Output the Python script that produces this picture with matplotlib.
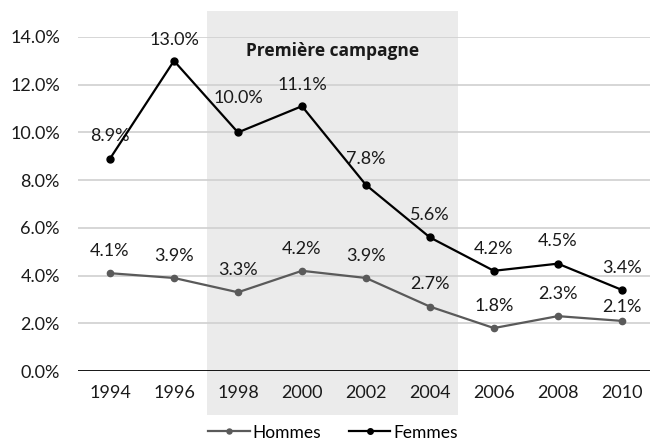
import matplotlib.pyplot as plt
from matplotlib.patches import Rectangle
import matplotlib.transforms as mtransforms

plt.rcParams['font.family'] = ['Lato', 'DejaVu Sans']

# Taux par année d'enquête (%)
annees = ['1994', '1996', '1998', '2000', '2002', '2004', '2006', '2008', '2010']
hommes = [4.1, 3.9, 3.3, 4.2, 3.9, 2.7, 1.8, 2.3, 2.1]
femmes = [8.9, 13.0, 10.0, 11.1, 7.8, 5.6, 4.2, 4.5, 3.4]
yticks = [0, 2, 4, 6, 8, 10, 12, 14]

fig = plt.figure(figsize=(6.5, 4.42), dpi=100)
ax = fig.add_axes([0.12, 0.1606, 0.88, 0.7557])

x = list(range(len(annees)))

# période de la première campagne (1998-2004)
trans = mtransforms.blended_transform_factory(ax.transData, ax.transAxes)
ax.add_patch(Rectangle((1.52, -0.132), 5.44 - 1.52, 1.21, transform=trans,
                       facecolor='#ebebeb', edgecolor='none', clip_on=False, zorder=0))
ax.text((1.52 + 5.44) / 2, 0.957, 'Première campagne', transform=trans,
        ha='center', va='center', fontsize=12.5, fontweight='bold', color='#1a1a1a',
        family=['Open Sans', 'DejaVu Sans'])

for v in yticks[1:]:
    ax.axhline(v, color='#d0d0d0', linewidth=1.2, zorder=1)
ax.axhline(0, color='black', linewidth=2, zorder=2)

ax.plot(x, hommes, color='#5a5a5a', linewidth=1.6, marker='o', markersize=4.5, label='Hommes', zorder=3)
ax.plot(x, femmes, color='black', linewidth=1.6, marker='o', markersize=5, label='Femmes', zorder=4)

# étiquettes de valeurs au-dessus des points
dy_h = [16, 16, 16, 16, 16, 16, 16, 16, 10]
dy_f = [16, 15, 25, 15, 19, 16, 16, 16, 16]
for i in x:
    ax.annotate(f'{hommes[i]:.1f}%', (i, hommes[i]), textcoords='offset points',
                xytext=(0, dy_h[i]), ha='center', va='center', fontsize=13, color='#1a1a1a')
    ax.annotate(f'{femmes[i]:.1f}%', (i, femmes[i]), textcoords='offset points',
                xytext=(0, dy_f[i]), ha='center', va='center', fontsize=13, color='#1a1a1a')

ax.set_xlim(-0.5, 8.44)
ax.set_ylim(0, 14)
ax.set_xticks(x)
ax.set_xticklabels(annees)
ax.set_yticks(yticks)
ax.set_yticklabels([f'{v:.1f}%' for v in yticks])
ax.tick_params(axis='both', length=0, labelsize=13, colors='#1a1a1a')
ax.tick_params(axis='y', pad=13)
ax.tick_params(axis='x', pad=10)
for s in ax.spines.values():
    s.set_visible(False)
ax.set_facecolor('none')

fig.legend(loc='lower center', bbox_to_anchor=(0.512, -0.032), ncol=2, frameon=False,
           fontsize=12.5, handlelength=2.4, handletextpad=0.15, columnspacing=1.6,
           markerscale=0.8)

fig.savefig('out.png', dpi=100)
